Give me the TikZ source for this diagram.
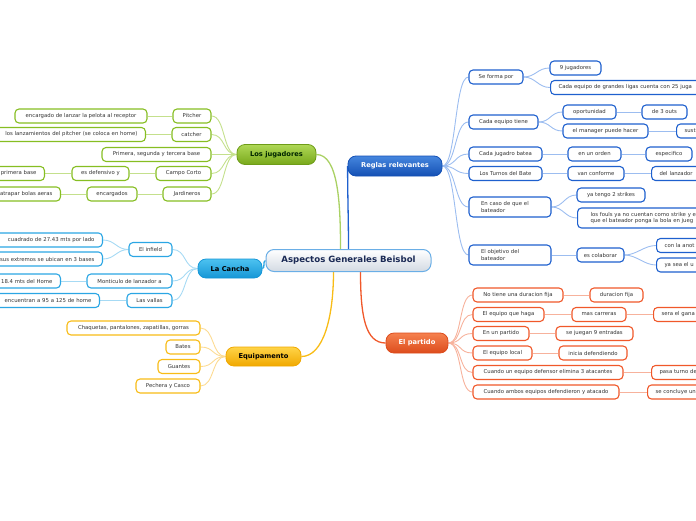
\documentclass[tikz,border=0pt]{standalone}
\usepackage{fontspec}
\setmainfont{DejaVu Sans}
\usetikzlibrary{backgrounds,calc}
\definecolor{txtc}{HTML}{333333}
\definecolor{gTop}{HTML}{AFD856}\definecolor{gBot}{HTML}{78A81A}\definecolor{gO}{HTML}{86BE22}\definecolor{gL}{HTML}{C4E08C}\definecolor{gB}{HTML}{6E9C18}
\definecolor{bTop}{HTML}{4586DE}\definecolor{bBot}{HTML}{1450B4}\definecolor{bO}{HTML}{1E60CE}\definecolor{bL}{HTML}{9CBDF0}
\definecolor{cTop}{HTML}{4DC2F0}\definecolor{cBot}{HTML}{1596D6}\definecolor{cO}{HTML}{2BA6E4}\definecolor{cL}{HTML}{A6DAF4}
\definecolor{yTop}{HTML}{FFD448}\definecolor{yBot}{HTML}{F0A800}\definecolor{yO}{HTML}{F8BC16}\definecolor{yL}{HTML}{FCDB92}
\definecolor{pTop}{HTML}{F5814F}\definecolor{pBot}{HTML}{DD4C1C}\definecolor{pO}{HTML}{F0582A}\definecolor{pL}{HTML}{F7B29C}
\definecolor{ctrB}{HTML}{6AAEE6}\definecolor{ctrT}{HTML}{1B2A55}\definecolor{ctrBot}{HTML}{D3DAE3}
\tikzset{
  sub/.style={draw, rounded corners=4pt, line width=1.1pt, fill=white, minimum height=14pt,
    inner xsep=3pt, inner ysep=0pt, font=\fontsize{5.35}{6.6}\selectfont, text=txtc},
  sG/.style={sub, draw=gO}, sB/.style={sub, draw=bO}, sC/.style={sub, draw=cO},
  sY/.style={sub, draw=yO}, sP/.style={sub, draw=pO},
  rcut/.style={anchor=west, text width=#1, align=left, inner xsep=8pt},
  lcut/.style={anchor=east, text width=#1, align=right, inner xsep=8pt},
  two/.style={minimum height=20pt, align=left, text width=#1, inner xsep=12pt},
  mainbox/.style={rounded corners=8pt, minimum height=20pt, inner sep=0pt, line width=0.8pt,
    font=\fontsize{6.7}{8}\selectfont\bfseries},
  hcurve/.style={to path={.. controls +(#1,0) and +(-#1,0) .. (\tikztotarget)}},
  lG/.style={draw=gL, line width=0.9pt}, lB/.style={draw=bL, line width=0.9pt},
  lC/.style={draw=cL, line width=0.9pt}, lY/.style={draw=yL, line width=0.9pt},
  lP/.style={draw=pL, line width=0.9pt},
}
\begin{document}
\begin{tikzpicture}[x=1pt,y=-1pt]
\useasboundingbox (0,0) rectangle (696,520);

% center
\node[mainbox, draw=ctrB, line width=1pt, top color=white, bottom color=ctrBot, minimum width=165pt, minimum height=22pt,
  font=\fontsize{8.6}{10}\selectfont\bfseries, text=ctrT] (C) at (348.5,260.5) {Aspectos Generales Beisbol};

% main nodes
\node[mainbox, draw=gB, top color=gTop, bottom color=gBot, minimum width=79pt, text={black!85!green}] (J) at (276.5,154.5) {Los jugadores};
\node[mainbox, draw=bBot, top color=bTop, bottom color=bBot, minimum width=94pt, text=white] (R) at (395,166) {Reglas relevantes};
\node[mainbox, draw=cBot, top color=cTop, bottom color=cBot, minimum width=64pt, minimum height=19pt, text=black] (K) at (230,268.5) {La Cancha};
\node[mainbox, draw=yBot, top color=yTop, bottom color=yBot, minimum width=75pt, minimum height=19pt, text=black] (E) at (263.5,356.5) {Equipamento};
\node[mainbox, draw=pBot, top color=pTop, bottom color=pBot, minimum width=62pt, text=white] (P) at (417,343) {El partido};

% Reglas relevantes
\node[sB, minimum width=54pt] (R1) at (496,77) {Se forma por};
\node[sB, minimum width=51pt] (R1a) at (575.5,68) {9 jugadores};
\node[sB, rcut=200pt] (R1b) at (550,87.5) {Cada equipo de grandes ligas cuenta con 25 juga};
\node[sB, minimum width=69pt] (R2) at (503.5,122) {Cada equipo tiene};
\node[sB, minimum width=53pt] (R2a) at (589.5,112) {oportunidad};
\node[sB, minimum width=45pt] (R2aa) at (664.5,112) {de 3 outs};
\node[sB, minimum width=85pt] (R2b) at (605.5,131) {el manager puede hacer};
\node[sB, rcut=60pt] (R2ba) at (676,131) {sust};
\node[sB, minimum width=73pt] (R3) at (505.5,154) {Cada jugadro batea};
\node[sB, minimum width=53pt] (R3a) at (594.5,154) {en un orden};
\node[sB, minimum width=46pt] (R3aa) at (669,154) {especifico};
\node[sB, minimum width=73pt] (R4) at (505.5,173.5) {Los Turnos del Bate};
\node[sB, minimum width=56pt] (R4a) at (596,173.5) {van conforme};
\node[sB, rcut=80pt] (R4aa) at (651,173.5) {del lanzador};
\node[sB, two=58pt] (R5) at (510,207) {En caso de que el\\bateador};
\node[sB, minimum width=68pt] (R5a) at (611,195) {ya tengo 2 strikes};
\node[sB, rcut=200pt, minimum height=20pt, inner xsep=13pt] (R5b) at (577,218) {los fouls ya no cuentan como strike y e\\que el bateador ponga la bola en jueg};
\node[sB, two=58pt] (R6) at (510,255) {El objetivo del\\bateador};
\node[sB, minimum width=47pt] (R6a) at (600.5,255) {es colaborar};
\node[sB, rcut=80pt] (R6aa) at (656,245.5) {con la anot};
\node[sB, rcut=80pt] (R6ab) at (656,265) {ya sea el u};

% El partido
\node[sP, minimum width=90pt] (P1) at (518,295) {No tiene una duracion fija};
\node[sP, minimum width=53pt] (P1a) at (616.5,295) {duracion fija};
\node[sP, minimum width=71pt] (P2) at (508.5,314.5) {El equipo que haga};
\node[sP, minimum width=54pt] (P2a) at (599,314.5) {mas carreras};
\node[sP, rcut=80pt] (P2aa) at (653,314.5) {sera el gana};
\node[sP, minimum width=56pt] (P3) at (501,333.5) {En un partido};
\node[sP, minimum width=77pt] (P3a) at (594.5,333.5) {se juegan 9 entradas};
\node[sP, minimum width=59pt] (P4) at (502.5,353) {El equipo local};
\node[sP, minimum width=68pt] (P4a) at (593,353) {inicia defendiendo};
\node[sP, minimum width=150pt] (P5) at (548,372.5) {Cuando un equipo defensor elimina 3 atacantes};
\node[sP, rcut=80pt] (P5a) at (651,372.5) {pasa turno de};
\node[sP, minimum width=146pt] (P6) at (546,392) {Cuando ambos equipos defendieron y atacado};
\node[sP, rcut=80pt] (P6a) at (647,392) {se concluye un};

% Los jugadores
\node[sG, minimum width=38pt] (J1) at (192,116) {Pitcher};
\node[sG, minimum width=132pt] (J1a) at (81,116) {encargado de lanzar la pelota al receptor};
\node[sG, minimum width=39pt] (J2) at (191.5,134.5) {catcher};
\node[sG, lcut=200pt] (J2a) at (146,134.5) {los lanzamientos del pitcher (se coloca en home)};
\node[sG, minimum width=109pt] (J3) at (156.5,154.5) {Primera, segunda y tercera base};
\node[sG, minimum width=55pt] (J4) at (183.5,173.5) {Campo Corto};
\node[sG, minimum width=57pt] (J4a) at (100.5,173.5) {es defensivo y};
\node[sG, lcut=80pt] (J4aa) at (45,173.5) {primera base};
\node[sG, minimum width=48pt] (J5) at (187,194) {Jardineros};
\node[sG, minimum width=50pt] (J5a) at (112,194) {encargados};
\node[sG, lcut=90pt] (J5aa) at (61,194) {atrapar bolas aeras};

% La Cancha
\node[sC, minimum width=43pt] (K1) at (150.5,249.5) {El infield};
\node[sC, lcut=150pt] (K1a) at (103,240) {cuadrado de 27.43 mts por lado};
\node[sC, lcut=150pt] (K1b) at (103,259) {sus extremos se ubican en 3 bases};
\node[sC, minimum width=85pt] (K2) at (129.5,281) {Monticulo de lanzador a};
\node[sC, lcut=90pt] (K2a) at (61,281) {18.4 mts del Home};
\node[sC, minimum width=45pt] (K3) at (149.5,300.5) {Las vallas};
\node[sC, lcut=150pt] (K3a) at (100,300.5) {encuentran a 95 a 125 de home};

% Equipamento
\node[sY, minimum width=133pt] (E1) at (133.5,328) {Chaquetas, pantalones, zapatillas, gorras};
\node[sY, minimum width=34pt] (E2) at (183,347) {Bates};
\node[sY, minimum width=42pt] (E3) at (179,366.5) {Guantes};
\node[sY, minimum width=64pt] (E4) at (168,386) {Pechera y Casco};

\begin{scope}[on background layer]
  % center to main
  \draw[draw=gO!70, line width=1.3pt] (J.east) .. controls +(22,0) and +(0,-45) .. ($(C.north)+(-8,0)$);
  \draw[draw=bO, line width=1.3pt] (R.west) .. controls +(0,30) and +(0,-30) .. (C.north);
  \draw[draw=yO, line width=1.3pt] ($(C.south)+(-15,0)$) .. controls +(0,45) and +(22,0) .. (E.east);
  \draw[draw=pO, line width=1.3pt] ($(C.south)+(12,0)$) .. controls +(0,45) and +(-20,0) .. (P.west);
  \draw[draw=cO, line width=1.3pt] (K.east) .. controls +(3,0) and +(-3,0) .. (C.west);
  % Reglas
  \foreach \n in {R1,R2,R3,R4,R5,R6} \draw[lB] (R.east) to[hcurve=14] (\n.west);
  \draw[lB] (R1.east) to[hcurve=12] (R1a.west);
  \draw[lB] (R1.east) to[hcurve=12] (R1b.west);
  \draw[lB] (R2.east) to[hcurve=12] (R2a.west);
  \draw[lB] (R2.east) to[hcurve=12] (R2b.west);
  \draw[lB] (R2a.east) -- (R2aa.west);
  \draw[lB] (R2b.east) -- (R2ba.west);
  \draw[lB] (R3.east) -- (R3a.west);
  \draw[lB] (R3a.east) -- (R3aa.west);
  \draw[lB] (R4.east) -- (R4a.west);
  \draw[lB] (R4a.east) -- (R4aa.west);
  \draw[lB] (R5.east) to[hcurve=12] (R5a.west);
  \draw[lB] (R5.east) to[hcurve=12] (R5b.west);
  \draw[lB] (R6.east) -- (R6a.west);
  \draw[lB] (R6a.east) to[hcurve=12] (R6aa.west);
  \draw[lB] (R6a.east) to[hcurve=12] (R6ab.west);
  % El partido
  \foreach \n in {P1,P2,P3,P4,P5,P6} \draw[lP] (P.east) to[hcurve=14] (\n.west);
  \draw[lP] (P1.east) -- (P1a.west);
  \draw[lP] (P2.east) -- (P2a.west);
  \draw[lP] (P2a.east) -- (P2aa.west);
  \draw[lP] (P3.east) -- (P3a.west);
  \draw[lP] (P4.east) -- (P4a.west);
  \draw[lP] (P5.east) -- (P5a.west);
  \draw[lP] (P6.east) -- (P6a.west);
  % Los jugadores
  \foreach \n in {J1,J2,J3,J4,J5} \draw[lG] (J.west) to[hcurve=-14] (\n.east);
  \draw[lG] (J1.west) -- (J1a.east);
  \draw[lG] (J2.west) -- (J2a.east);
  \draw[lG] (J4.west) -- (J4a.east);
  \draw[lG] (J4a.west) -- (J4aa.east);
  \draw[lG] (J5.west) -- (J5a.east);
  \draw[lG] (J5a.west) -- (J5aa.east);
  % La Cancha
  \foreach \n in {K1,K2,K3} \draw[lC] (K.west) to[hcurve=-14] (\n.east);
  \draw[lC] (K1.west) to[hcurve=-12] (K1a.east);
  \draw[lC] (K1.west) to[hcurve=-12] (K1b.east);
  \draw[lC] (K2.west) -- (K2a.east);
  \draw[lC] (K3.west) -- (K3a.east);
  % Equipamento
  \foreach \n in {E1,E2,E3,E4} \draw[lY] (E.west) to[hcurve=-14] (\n.east);
\end{scope}
\end{tikzpicture}
\end{document}
